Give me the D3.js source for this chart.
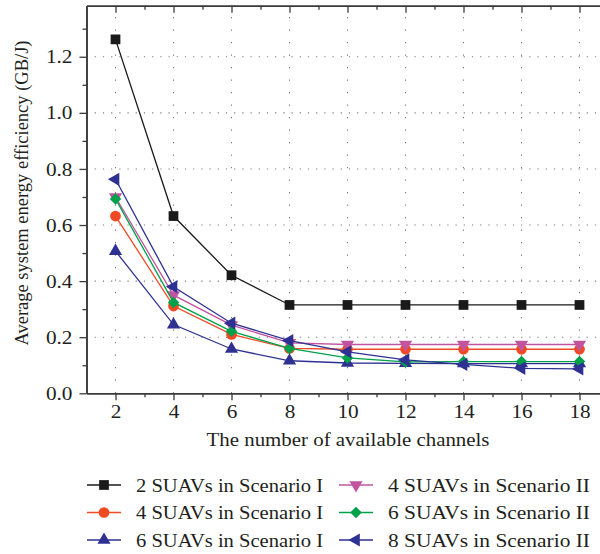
<!DOCTYPE html>
<html>
<head>
<meta charset="utf-8">
<script src="https://cdn.jsdelivr.net/npm/d3@7"></script>
<style>
  html, body { margin: 0; padding: 0; background: #fff; }
  svg { display: block; }
  text { font-family: "Liberation Serif", "DejaVu Serif", serif; fill: #231f20; }
</style>
</head>
<body>
<svg id="chart" width="600" height="554"></svg>
<script>
// Number of available channels
const channels = [2, 4, 6, 8, 10, 12, 14, 16, 18];

// Average system energy efficiency (GB/J) per configuration
const suav2ScenI  = [1.262, 0.632, 0.421, 0.315, 0.315, 0.315, 0.315, 0.315, 0.315];
const suav4ScenI  = [0.632, 0.311, 0.210, 0.160, 0.157, 0.157, 0.157, 0.157, 0.157];
const suav6ScenI  = [0.507, 0.245, 0.158, 0.116, 0.108, 0.107, 0.106, 0.106, 0.106];
const suav4ScenII = [0.700, 0.350, 0.243, 0.180, 0.174, 0.174, 0.174, 0.174, 0.174];
const suav6ScenII = [0.693, 0.324, 0.221, 0.160, 0.126, 0.112, 0.113, 0.113, 0.113];
const suav8ScenII = [0.763, 0.380, 0.250, 0.188, 0.148, 0.119, 0.103, 0.089, 0.087];

const seriesNames = [
  "2 SUAVs in Scenario I", "4 SUAVs in Scenario I", "6 SUAVs in Scenario I",
  "4 SUAVs in Scenario II", "6 SUAVs in Scenario II", "8 SUAVs in Scenario II"
];
const seriesValues = [suav2ScenI, suav4ScenI, suav6ScenI, suav4ScenII, suav6ScenII, suav8ScenII];
const seriesColors = ["#1a1a1a", "#f04a24", "#2e3192", "#c2549f", "#00a14b", "#2e3192"];
const seriesMarkers = ["square", "circle", "triUp", "triDown", "diamond", "triLeft"];

const yTicks = [0.0, 0.2, 0.4, 0.6, 0.8, 1.0, 1.2];
const xTicks = [2, 4, 6, 8, 10, 12, 14, 16, 18];

const svg = d3.select("#chart");
const plotLeft = 86.5, plotRight = 608.5, plotTop = 5.7, plotBottom = 393.3;

const x = d3.scaleLinear().domain([1, 19]).range([plotLeft, plotRight]);
const y = d3.scaleLinear().domain([0, 1.382]).range([plotBottom, plotTop]);

// Widen a text element by a factor of its natural length
function stretch(sel, factor) {
  sel.each(function () {
    const w = this.getComputedTextLength();
    d3.select(this).attr("textLength", w * factor).attr("lengthAdjust", "spacingAndGlyphs");
  });
}

// Dotted grid
const grid = svg.append("g").attr("stroke", "#7a7a7a").attr("stroke-width", 1.1);
grid.selectAll("line.gx").data(xTicks).join("line")
  .attr("x1", d => x(d)).attr("x2", d => x(d))
  .attr("y1", plotBottom).attr("y2", plotTop)
  .attr("stroke-dasharray", "1.2,11.3");
grid.selectAll("line.gy").data(yTicks.filter(d => d > 0)).join("line")
  .attr("y1", d => y(d)).attr("y2", d => y(d))
  .attr("x1", plotLeft).attr("x2", 600)
  .attr("stroke-dasharray", "1.2,7");

// Axes
const axisColor = "#3a3a3a";
const yMinor = d3.range(0.1, 1.35, 0.2);
const xMinor = d3.range(3, 19, 2);

const yAxis = svg.append("g").attr("transform", `translate(${plotLeft},0)`)
  .call(d3.axisLeft(y).tickValues(yTicks).tickFormat(d3.format(".1f")).tickSize(7).tickSizeOuter(0));
svg.append("g").attr("transform", `translate(${plotLeft},0)`)
  .call(d3.axisLeft(y).tickValues(yMinor).tickFormat("").tickSize(4).tickSizeOuter(0));

const xAxis = svg.append("g").attr("transform", `translate(0,${plotBottom})`)
  .call(d3.axisBottom(x).tickValues(xTicks).tickFormat(d3.format("d")).tickSize(7).tickSizeOuter(0));
svg.append("g").attr("transform", `translate(0,${plotBottom})`)
  .call(d3.axisBottom(x).tickValues(xMinor).tickFormat("").tickSize(4).tickSizeOuter(0));

// Top frame with inward ticks
svg.append("g").attr("transform", `translate(0,${plotTop})`)
  .call(d3.axisBottom(x).tickValues(xTicks).tickFormat("").tickSize(7).tickSizeOuter(0));
svg.append("g").attr("transform", `translate(0,${plotTop})`)
  .call(d3.axisBottom(x).tickValues(xMinor).tickFormat("").tickSize(4).tickSizeOuter(0));

svg.selectAll(".domain").attr("stroke", axisColor).attr("stroke-width", 1.6);
svg.selectAll(".tick line").attr("stroke", axisColor).attr("stroke-width", 1.3);
svg.selectAll(".tick text").style("font-family", "'Liberation Serif', serif")
  .style("font-size", "19px").attr("fill", "#231f20");
yAxis.selectAll(".tick text").attr("x", -14);
xAxis.selectAll(".tick text").attr("y", 11);
stretch(svg.selectAll(".tick text"), 1.12);

// Axis titles
svg.append("text")
  .attr("x", 348).attr("y", 446)
  .attr("text-anchor", "middle")
  .style("font-size", "19px")
  .attr("textLength", 283).attr("lengthAdjust", "spacingAndGlyphs")
  .text("The number of available channels");

svg.append("text")
  .attr("transform", "translate(28,193) rotate(-90)")
  .attr("text-anchor", "middle")
  .style("font-size", "18px")
  .attr("textLength", 305).attr("lengthAdjust", "spacingAndGlyphs")
  .text("Average system energy efficiency (GB/J)");

// Marker shapes
function markerPath(kind) {
  switch (kind) {
    case "square":  return { d: d3.symbol(d3.symbolSquare, 95)(), rot: 0 };
    case "circle":  return { d: d3.symbol(d3.symbolCircle, 90)(), rot: 0 };
    case "triUp":   return { d: d3.symbol(d3.symbolTriangle, 75)(), rot: 0 };
    case "triDown": return { d: d3.symbol(d3.symbolTriangle, 75)(), rot: 180 };
    case "triLeft": return { d: d3.symbol(d3.symbolTriangle, 75)(), rot: -90 };
    case "diamond": return { d: d3.symbol(d3.symbolSquare, 66)(), rot: 45 };
  }
}

// Series lines and markers
const line = d3.line().x(d => x(d[0])).y(d => y(d[1]));
const plot = svg.append("g");
seriesValues.forEach((vals, i) => {
  const pts = channels.map((c, j) => [c, vals[j]]);
  const g = plot.append("g");
  g.append("path").datum(pts)
    .attr("d", line).attr("fill", "none")
    .attr("stroke", seriesColors[i]).attr("stroke-width", 1.3);
  const m = markerPath(seriesMarkers[i]);
  g.selectAll("path.mk").data(pts).join("path")
    .attr("class", "mk")
    .attr("d", m.d)
    .attr("transform", d => `translate(${x(d[0])},${y(d[1])}) rotate(${m.rot})`)
    .attr("fill", seriesColors[i]);
});

// Legend (two columns, three rows)
const legend = svg.append("g");
const colX = [87, 339];
const colTextWidth = [187, 202];
const rowY = [485, 512.5, 540];
seriesNames.forEach((name, i) => {
  const col = Math.floor(i / 3), row = i % 3;
  const lx = colX[col], ly = rowY[row];
  const g = legend.append("g").attr("transform", `translate(${lx},${ly})`);
  g.append("line").attr("x1", 0).attr("x2", 34).attr("y1", 0).attr("y2", 0)
    .attr("stroke", seriesColors[i]).attr("stroke-width", 1.3);
  const m = markerPath(seriesMarkers[i]);
  g.append("path").attr("d", m.d)
    .attr("transform", `translate(17,0) rotate(${m.rot})`)
    .attr("fill", seriesColors[i]);
  g.append("text").attr("x", 49).attr("y", 6.5)
    .style("font-size", "19.5px")
    .attr("textLength", colTextWidth[col]).attr("lengthAdjust", "spacingAndGlyphs")
    .text(name);
});
</script>
</body>
</html>
